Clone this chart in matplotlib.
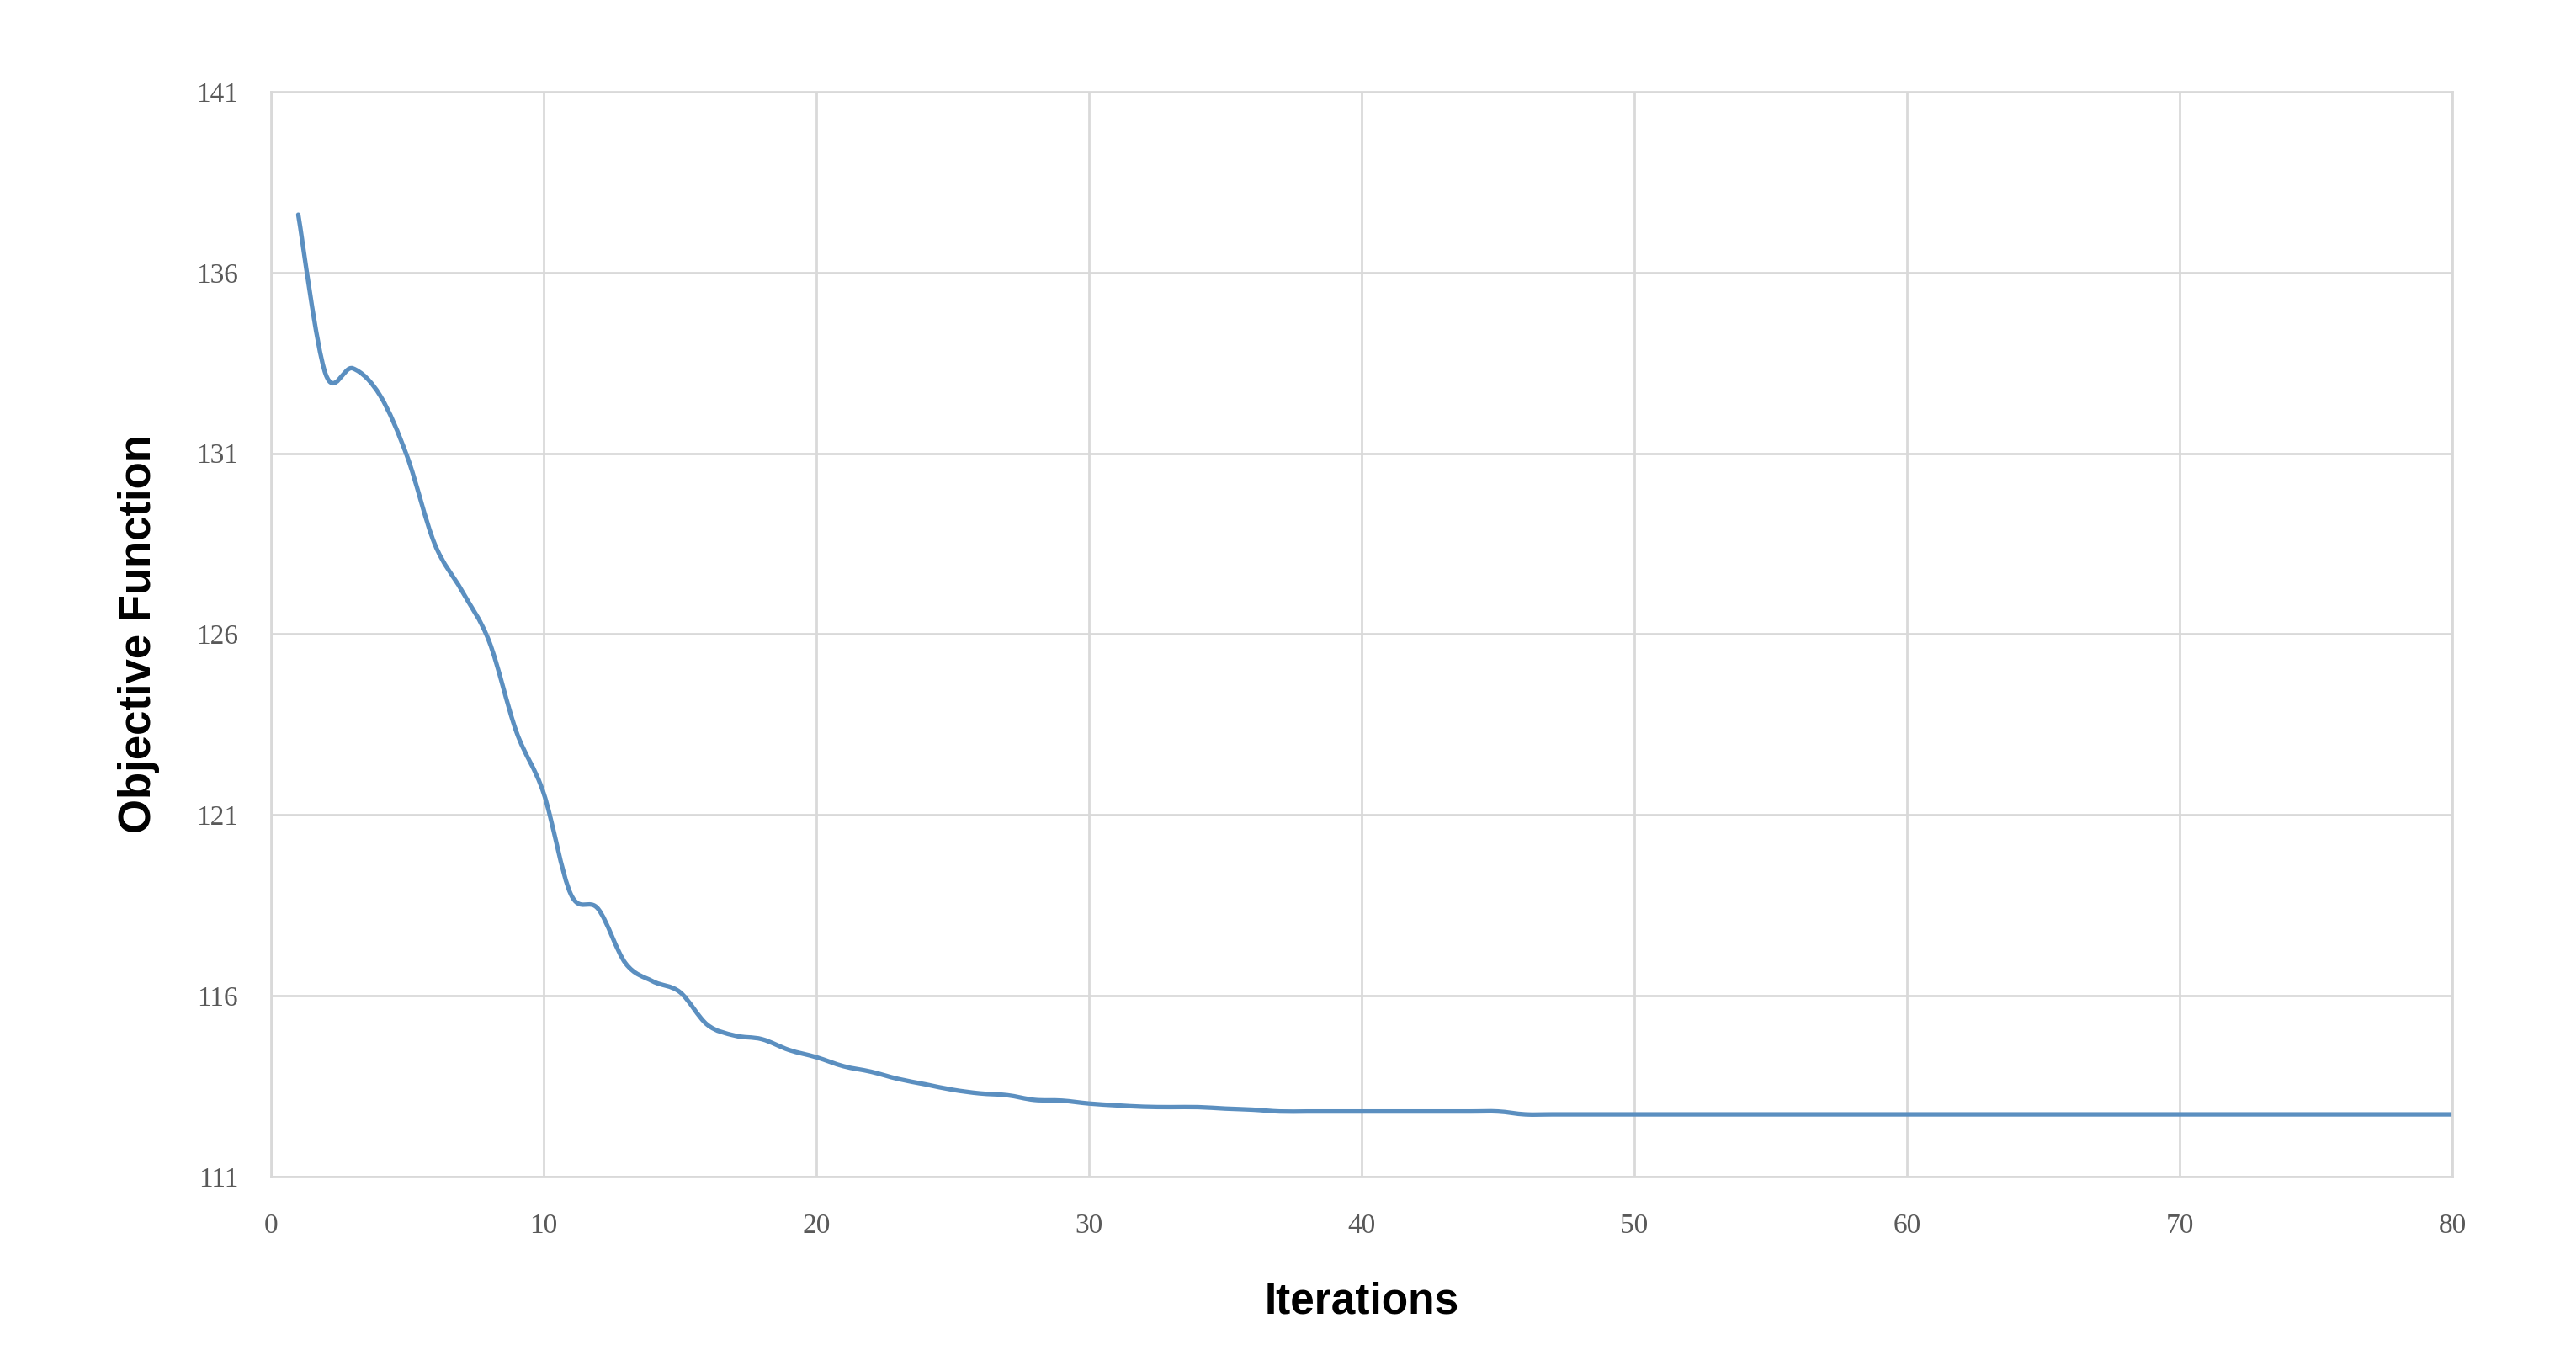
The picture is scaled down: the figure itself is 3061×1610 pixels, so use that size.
import matplotlib
matplotlib.use("Agg")
import matplotlib.pyplot as plt
from matplotlib.path import Path
from matplotlib.patches import PathPatch

# ---- data ----
iterations = list(range(1, 81))
objective = [
    137.6, 133.2, 133.35, 132.6, 130.9, 128.5, 127.2, 125.8, 123.3, 121.6,
    118.8, 118.4, 116.9, 116.4, 116.1, 115.2, 114.9, 114.8, 114.5, 114.3,
    114.05, 113.9, 113.7, 113.55, 113.4, 113.3, 113.25, 113.12, 113.1, 113.02,
    112.97, 112.93, 112.92, 112.92, 112.88, 112.85, 112.8, 112.8, 112.8, 112.8,
    112.8, 112.8, 112.8, 112.8, 112.8, 112.72, 112.72, 112.72, 112.72, 112.72,
    112.72, 112.72, 112.72, 112.72, 112.72, 112.72, 112.72, 112.72, 112.72, 112.72,
    112.72, 112.72, 112.72, 112.72, 112.72, 112.72, 112.72, 112.72, 112.72, 112.72,
    112.72, 112.72, 112.72, 112.72, 112.72, 112.72, 112.72, 112.72, 112.72, 112.72,
]
x_ticks = [0, 10, 20, 30, 40, 50, 60, 70, 80]
y_ticks = [111, 116, 121, 126, 131, 136, 141]

GRID = "#d9d9d9"
LINE = "#5b8fc0"
TICK = "#595959"


def smooth_path(xs, ys):
    """Excel-style smoothed line: cubic Bezier through every point."""
    n = len(xs)
    verts = [(xs[0], ys[0])]
    codes = [Path.MOVETO]
    for i in range(n - 1):
        x0, y0 = xs[max(i - 1, 0)], ys[max(i - 1, 0)]
        x1, y1 = xs[i], ys[i]
        x2, y2 = xs[i + 1], ys[i + 1]
        x3, y3 = xs[min(i + 2, n - 1)], ys[min(i + 2, n - 1)]
        c1 = (x1 + (x2 - x0) / 6, y1 + (y2 - y0) / 6)
        c2 = (x2 - (x3 - x1) / 6, y2 - (y3 - y1) / 6)
        verts += [c1, c2, (x2, y2)]
        codes += [Path.CURVE4] * 3
    return Path(verts, codes)


fig = plt.figure(figsize=(30.61, 16.10), dpi=100)
ax = fig.add_axes([0.1052, 0.1317, 0.8468, 0.8006])

ax.add_patch(PathPatch(smooth_path(iterations, objective), facecolor="none",
                       edgecolor=LINE, lw=3.8, capstyle="round", joinstyle="round"))

ax.set_xlim(0, 80)
ax.set_ylim(111, 141)
ax.set_xticks(x_ticks)
ax.set_yticks(y_ticks)
ax.grid(True, color=GRID, lw=2)
ax.set_axisbelow(True)
for s in ax.spines.values():
    s.set_color(GRID)
    s.set_linewidth(2)
ax.tick_params(length=0, colors=TICK, labelsize=24)
ax.tick_params(axis="y", pad=28)
ax.tick_params(axis="x", pad=31)
for lab in ax.get_xticklabels() + ax.get_yticklabels():
    lab.set_family(["Liberation Serif", "DejaVu Serif"])

ax.set_xlabel("Iterations", fontsize=37, fontweight="bold",
              family=["Liberation Sans Narrow", "Liberation Sans", "DejaVu Sans"], labelpad=37)
ax.set_ylabel("Objective Function", fontsize=38, fontweight="bold",
              family=["Liberation Sans", "DejaVu Sans"], labelpad=31)

fig.savefig("out.png", dpi=100, facecolor="white")
